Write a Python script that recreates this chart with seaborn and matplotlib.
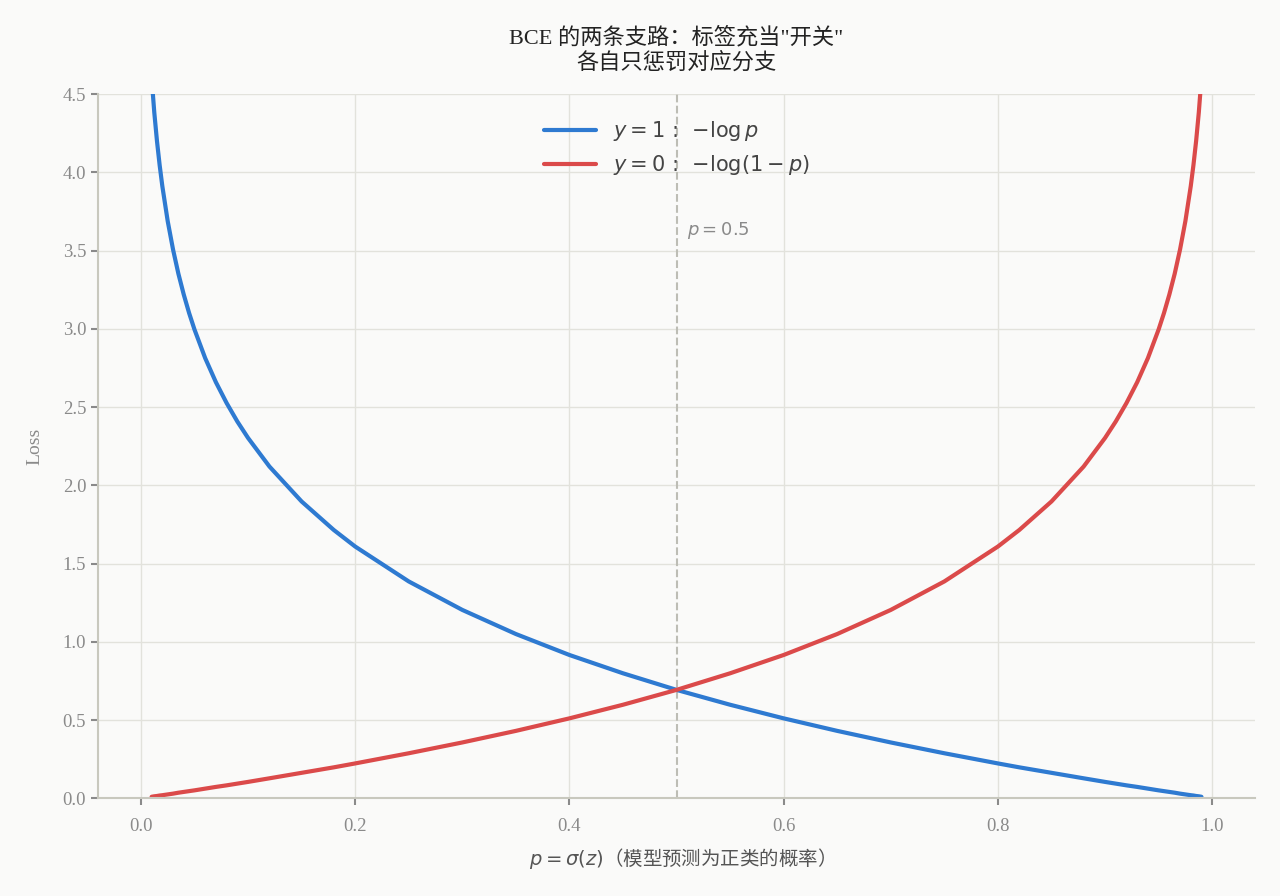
import pandas as pd
import matplotlib.pyplot as plt
import seaborn as sns

# 预测概率 p 及两条支路的损失
p = [0.01, 0.0125, 0.015, 0.0175, 0.02, 0.025, 0.03, 0.035, 0.04, 0.045, 0.05,
     0.06, 0.07, 0.08, 0.09, 0.10, 0.12, 0.15, 0.18, 0.20, 0.25, 0.30, 0.35,
     0.40, 0.45, 0.50, 0.55, 0.60, 0.65, 0.70, 0.75, 0.80, 0.82, 0.85, 0.88,
     0.90, 0.91, 0.92, 0.93, 0.94, 0.95, 0.955, 0.96, 0.965, 0.97, 0.975,
     0.98, 0.9825, 0.985, 0.9875, 0.99]
loss_y1 = [4.605, 4.382, 4.200, 4.046, 3.912, 3.689, 3.507, 3.352, 3.219, 3.101,
           2.996, 2.813, 2.659, 2.526, 2.408, 2.303, 2.120, 1.897, 1.715, 1.609,
           1.386, 1.204, 1.050, 0.916, 0.799, 0.693, 0.598, 0.511, 0.431, 0.357,
           0.288, 0.223, 0.198, 0.163, 0.128, 0.105, 0.094, 0.083, 0.073, 0.062,
           0.051, 0.046, 0.041, 0.036, 0.030, 0.025, 0.020, 0.018, 0.015, 0.013,
           0.010]
loss_y0 = [0.010, 0.013, 0.015, 0.018, 0.020, 0.025, 0.030, 0.036, 0.041, 0.046,
           0.051, 0.062, 0.073, 0.083, 0.094, 0.105, 0.128, 0.163, 0.198, 0.223,
           0.288, 0.357, 0.431, 0.511, 0.598, 0.693, 0.799, 0.916, 1.050, 1.204,
           1.386, 1.609, 1.715, 1.897, 2.120, 2.303, 2.408, 2.526, 2.659, 2.813,
           2.996, 3.101, 3.219, 3.352, 3.507, 3.689, 3.912, 4.046, 4.200, 4.382,
           4.605]

x_ticks = [0.0, 0.2, 0.4, 0.6, 0.8, 1.0]
y_ticks = [0.0, 0.5, 1.0, 1.5, 2.0, 2.5, 3.0, 3.5, 4.0, 4.5]

bg = '#FAFAF9'
sns.set_theme(style="whitegrid", rc={
    'axes.facecolor': bg, 'figure.facecolor': bg,
    'grid.color': '#E2E2DC', 'grid.linewidth': 1.0,
    'axes.edgecolor': '#C8C8BE',
})
plt.rcParams['font.family'] = ['Liberation Serif', 'Noto Sans CJK SC', 'DejaVu Sans']
plt.rcParams['axes.unicode_minus'] = False

df = pd.DataFrame({'p': p, 'y1': loss_y1, 'y0': loss_y0})

fig, ax = plt.subplots(figsize=(12.8, 8.96), dpi=100)
fig.subplots_adjust(left=0.0766, right=0.9805, top=0.895, bottom=0.109)

sns.lineplot(data=df, x='p', y='y1', ax=ax, color='#2E7AD1', linewidth=3,
             label=r'$y=1$ :  $-\log p$')
sns.lineplot(data=df, x='p', y='y0', ax=ax, color='#DB4A4A', linewidth=3,
             label=r'$y=0$ :  $-\log(1-p)$')

ax.axvline(0.5, color='#BDBDB5', linestyle='--', linewidth=1.5, zorder=1)
ax.text(0.51, 3.6, r'$p=0.5$', color='#8A8A8A', fontsize=13,
        family=['DejaVu Sans'])

ax.set_xlim(-0.04, 1.04)
ax.set_ylim(0, 4.5)
ax.set_xticks(x_ticks)
ax.set_yticks(y_ticks)
ax.set_xticklabels([f'{v:.1f}' for v in x_ticks])
ax.set_yticklabels([f'{v:.1f}' for v in y_ticks])
ax.tick_params(colors='#8A8A8A', labelsize=13.5, length=5, width=1.5,
               left=True, bottom=True)
ax.tick_params(axis='x', pad=9)

for s in ['top', 'right']:
    ax.spines[s].set_visible(False)
for s in ['left', 'bottom']:
    ax.spines[s].set_color('#C8C8BE')
    ax.spines[s].set_linewidth(1.5)

ax.set_xlabel(r'$p=\sigma(z)$（模型预测为正类的概率）', fontsize=14,
              color='#555555', family=['Noto Sans CJK SC', 'DejaVu Sans'],
              labelpad=8)
ax.set_ylabel('Loss', fontsize=14, color='#8A8A8A', labelpad=14)
ax.set_title('BCE 的两条支路：标签充当"开关"\n各自只惩罚对应分支', fontsize=16,
             color='#222222', linespacing=1.25, pad=18)

leg = ax.legend(loc='upper center', frameon=False,
                prop={'family': ['DejaVu Sans'], 'size': 15},
                handlelength=2.5, borderaxespad=0.8)
for t in leg.get_texts():
    t.set_color('#444444')

plt.savefig('out.png', dpi=100, facecolor=bg)
